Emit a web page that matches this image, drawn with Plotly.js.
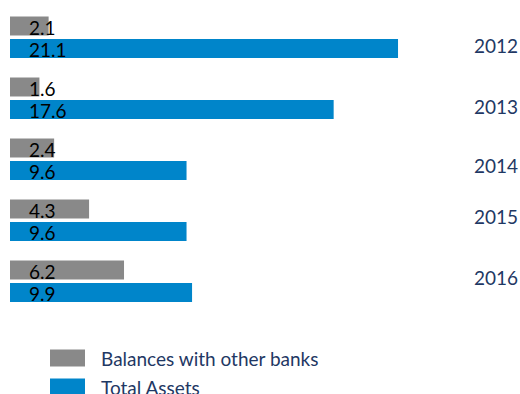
<!DOCTYPE html>
<html><head><meta charset="utf-8">
<script src="https://cdn.plot.ly/plotly-3.0.1.min.js"></script>
<style>html,body{margin:0;padding:0;background:#fff}</style>
</head><body>
<div id="chart" style="width:520px;height:394px"></div>
<script>
const years = ['2012','2013','2014','2015','2016'];
const balances = [2.1, 1.6, 2.4, 4.3, 6.2];
const totalAssets = [21.1, 17.6, 9.6, 9.6, 9.9];
const seriesNames = ['Balances with other banks', 'Total Assets'];
const colors = ['#898989', '#0085CA'];

const W = 520, H = 394, ML = 10;
const pxPerUnit = 18.39;
const plotW = W - ML;
const pxPerCat = 61, cat0px = 37.25;
const yTop = -cat0px / pxPerCat;
const yBot = (H - cat0px) / pxPerCat;
const barOffsetPx = 11.25;
const labelFont = {family: 'Lato, "Open Sans", sans-serif', size: 19, color: '#000000'};
const navyFont = {family: 'Lato, "Open Sans", sans-serif', size: 19, color: '#1F3864'};

const traces = [balances, totalAssets].map((vals, k) => ({
  type: 'bar', orientation: 'h', y: years, x: vals, name: seriesNames[k],
  marker: {color: colors[k]}, hoverinfo: 'skip', showlegend: false
}));

const annotations = [];
[balances, totalAssets].forEach((vals, k) => {
  vals.forEach((v, i) => {
    annotations.push({
      x: 0, y: i, xref: 'x', yref: 'y', xanchor: 'left', yanchor: 'middle',
      xshift: 17, yshift: k === 0 ? barOffsetPx - 1 : -barOffsetPx - 1,
      text: v.toFixed(1), showarrow: false, font: labelFont
    });
  });
});
const yearShift = [-8.5, -8.5, -5.75, 3.5, 4.25];
years.forEach((yr, i) => {
  annotations.push({
    x: (472 - ML) / plotW, xref: 'paper', y: i, yref: 'y', xanchor: 'left', yanchor: 'middle',
    yshift: yearShift[i], text: yr, showarrow: false, font: navyFont
  });
});
const px2x = p => (p - ML) / plotW;
const py2y = p => 1 - p / H;
const legendRows = [358, 387];
const shapes = [];
seriesNames.forEach((nm, k) => {
  const cy = legendRows[k];
  shapes.push({type: 'rect', xref: 'paper', yref: 'paper',
    x0: px2x(50), x1: px2x(85), y0: py2y(cy - 8.5), y1: py2y(cy + 8.5),
    fillcolor: colors[k], line: {width: 0}});
  annotations.push({x: px2x(99), xref: 'paper', y: py2y(cy), yref: 'paper',
    xanchor: 'left', yanchor: 'middle', text: nm, showarrow: false, font: navyFont});
});

const layout = {
  width: W, height: H,
  margin: {l: ML, r: 0, t: 0, b: 0, pad: 0},
  paper_bgcolor: '#ffffff', plot_bgcolor: '#ffffff',
  barmode: 'group', bargap: 0.262, bargroupgap: 0.156,
  xaxis: {range: [0, plotW / pxPerUnit], visible: false, fixedrange: true},
  yaxis: {type: 'category', range: [yBot, yTop], visible: false, fixedrange: true},
  annotations: annotations, shapes: shapes, showlegend: false
};
Plotly.newPlot('chart', traces, layout, {staticPlot: true, displayModeBar: false});
</script>
</body></html>
